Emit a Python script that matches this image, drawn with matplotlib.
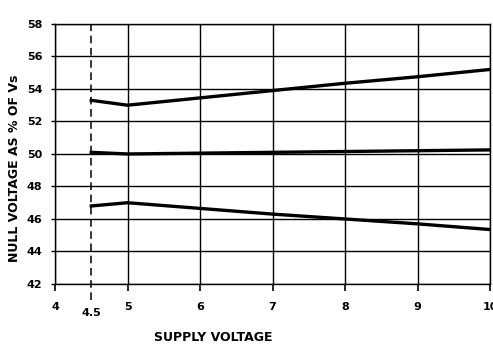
import matplotlib
matplotlib.use("Agg")
import matplotlib.pyplot as plt

# supply voltage points (V)
supply_v = [4.5, 5, 6, 7, 8, 9, 10]

# null voltage as % of Vs
upper = [53.3, 53.0, 53.45, 53.9, 54.35, 54.75, 55.2]
middle = [50.1, 50.0, 50.05, 50.1, 50.15, 50.2, 50.25]
lower = [46.8, 47.0, 46.65, 46.3, 46.0, 45.7, 45.35]

x_ticks = [4, 5, 6, 7, 8, 9, 10]
y_ticks = [42, 44, 46, 48, 50, 52, 54, 56, 58]
min_supply = 4.5

plt.rcParams["font.family"] = ["DejaVu Sans"]

fig = plt.figure(figsize=(4.93, 3.47), dpi=100)
ax = fig.add_axes([0.1116, 0.1816, 0.8824, 0.7494])

ax.set_xlim(4, 10)
ax.set_ylim(42, 58)
ax.set_xticks(x_ticks)
ax.set_yticks(y_ticks)
ax.set_xticklabels([str(t) for t in x_ticks], fontsize=8, fontweight="bold")
ax.set_yticklabels([str(t) for t in y_ticks], fontsize=8, fontweight="bold")
ax.tick_params(axis="x", direction="out", length=5, width=1.2, pad=8)
ax.tick_params(axis="y", direction="out", length=3, width=1.0, pad=6)
ax.grid(True, color="black", linewidth=1.0)
for s in ax.spines.values():
    s.set_linewidth(1.0)

for series in (upper, middle, lower):
    ax.plot(supply_v, series, color="black", linewidth=2.4, solid_joinstyle="miter")

# dashed minimum-supply marker running below the axis
ax.plot([min_supply, min_supply], [41.0, 58], color="black", linewidth=1.1,
        linestyle=(0, (5, 3)), clip_on=False)
ax.text(min_supply, 40.2, "4.5", ha="center", va="center", fontsize=8,
        fontweight="bold")

ax.set_xlabel("SUPPLY VOLTAGE", fontsize=9, fontweight="bold", labelpad=14, x=0.364)
fig.text(0.03, 0.515, "NULL VOLTAGE AS % OF Vs", rotation=90, ha="center",
         va="center", fontsize=9, fontweight="bold")

fig.savefig("out.png", dpi=100)
